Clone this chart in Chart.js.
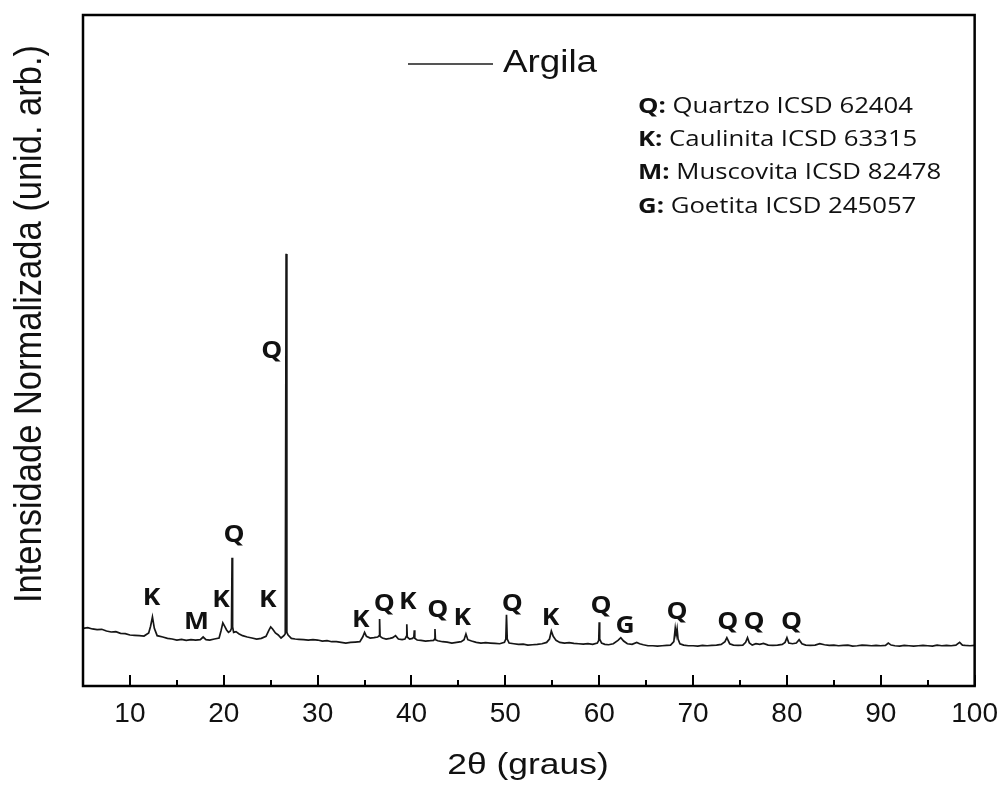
<!DOCTYPE html>
<html>
<head>
<meta charset="utf-8">
<script src="https://cdn.jsdelivr.net/npm/chart.js@4/dist/chart.umd.min.js"></script>
<style>
  html, body { margin: 0; padding: 0; background: #fff; }
  #wrap { width: 1001px; height: 785px; position: relative; }
</style>
</head>
<body>
<div id="wrap"><canvas id="c"></canvas></div>
<script>
// ---- data ----
const twoTheta = [
  5, 5.5, 6, 6.5, 7, 7.5, 8, 8.5, 9, 9.5,
  10, 10.5, 11, 11.5, 12, 12.2, 12.4, 12.6, 12.9, 13.5,
  14, 14.5, 15, 15.5, 16, 16.5, 17, 17.5, 17.8, 18.1,
  18.5, 19, 19.5, 19.7, 19.9, 20.1, 20.3, 20.5, 20.7, 20.82,
  20.88, 20.94, 21.05, 21.3, 21.6, 22, 22.5, 23, 23.5, 24,
  24.5, 24.8, 25.0, 25.2, 25.5, 25.8, 26.1, 26.4, 26.55, 26.64,
  26.72, 26.85, 27.2, 27.6, 28, 28.5, 29, 29.5, 30, 30.5,
  31, 31.5, 32, 32.5, 33, 33.5, 34, 34.5, 34.8, 35.0,
  35.2, 35.6, 36, 36.4, 36.55, 36.6, 36.65, 36.9, 37.3, 37.7,
  38.0, 38.3, 38.6, 39.0, 39.3, 39.45, 39.5, 39.55, 39.8, 40.1,
  40.25, 40.3, 40.35, 40.6, 41, 41.5, 42, 42.35, 42.45, 42.5,
  42.55, 42.8, 43.3, 43.8, 44.3, 44.8, 45.3, 45.6, 45.8, 46.0,
  46.4, 46.9, 47.4, 47.9, 48.4, 48.9, 49.4, 49.9, 50.05, 50.12,
  50.2, 50.4, 50.9, 51.4, 51.9, 52.4, 52.9, 53.4, 53.9, 54.4,
  54.7, 54.9, 55.1, 55.4, 55.8, 56.3, 56.8, 57.3, 57.8, 58.3,
  58.8, 59.3, 59.8, 59.95, 60.0, 60.05, 60.25, 60.6, 61.0, 61.5,
  62.0, 62.3, 62.6, 63.0, 63.5, 64.0, 64.3, 64.7, 65.2, 65.7,
  66.2, 66.7, 67.2, 67.6, 67.95, 68.1, 68.2, 68.3, 68.4, 68.6,
  69.0, 69.5, 70, 70.5, 71, 71.5, 72, 72.5, 73, 73.4,
  73.6, 73.9, 74.3, 74.8, 75.3, 75.6, 75.8, 76.0, 76.3, 76.7,
  77.1, 77.5, 78, 78.5, 79, 79.5, 79.8, 80.0, 80.2, 80.6,
  81.0, 81.3, 81.6, 82, 82.5, 83, 83.5, 84, 84.5, 85,
  85.5, 86, 86.5, 87, 87.5, 88, 88.5, 89, 89.5, 90,
  90.5, 90.8, 91.1, 91.5, 92, 92.5, 93, 93.5, 94, 94.5,
  95, 95.5, 96, 96.5, 97, 97.5, 98, 98.4, 98.7, 99,
  99.5, 100
];
const intensity = [
  8.6, 8.7, 8.5, 8.4, 8.45, 8.2, 8.05, 8.1, 7.85, 7.8,
  7.6, 7.55, 7.5, 7.45, 7.9, 8.9, 10.3, 8.6, 7.5, 7.3,
  7.1, 7.0, 6.85, 6.95, 6.8, 6.9, 6.85, 6.9, 7.3, 6.9,
  6.85, 7.0, 7.15, 8.2, 9.4, 8.9, 8.35, 8.0, 8.2, 8.6,
  19.1, 8.8, 8.0, 8.1, 7.8, 7.5, 7.3, 7.15, 7.0, 7.1,
  7.4, 8.3, 8.8, 8.5, 7.9, 7.6, 7.15, 7.5, 7.8, 64.4,
  8.0, 7.6, 7.1, 7.0, 6.95, 6.9, 6.85, 6.9, 6.85, 6.7,
  6.75, 6.6, 6.6, 6.5, 6.4, 6.5, 6.55, 6.6, 7.3, 8.0,
  7.4, 7.15, 7.2, 7.3, 7.5, 10.0, 7.4, 7.15, 7.0, 7.1,
  7.2, 7.5, 7.0, 6.9, 7.0, 7.4, 9.2, 7.3, 7.0, 7.1,
  7.3, 8.3, 7.1, 6.85, 6.8, 6.7, 6.75, 6.8, 7.0, 8.5,
  6.9, 6.75, 6.6, 6.55, 6.4, 6.5, 6.6, 6.9, 7.75, 6.9,
  6.7, 6.5, 6.4, 6.45, 6.4, 6.35, 6.3, 6.5, 7.0, 10.6,
  7.0, 6.4, 6.3, 6.2, 6.25, 6.1, 6.15, 6.2, 6.3, 6.5,
  7.0, 8.2, 7.4, 6.8, 6.5, 6.4, 6.45, 6.35, 6.3, 6.25,
  6.3, 6.2, 6.4, 6.8, 9.5, 7.0, 6.4, 6.2, 6.15, 6.3,
  6.8, 7.2, 6.7, 6.3, 6.2, 6.5, 6.3, 6.15, 6.0, 6.0,
  5.95, 6.0, 6.05, 6.1, 6.6, 8.6, 7.6, 8.5, 7.0, 6.3,
  6.1, 6.0, 6.0, 5.95, 6.05, 6.0, 6.05, 6.1, 6.2, 6.6,
  7.2, 6.3, 6.1, 6.05, 6.1, 6.5, 7.2, 6.4, 6.1, 6.3,
  6.2, 6.35, 6.1, 6.05, 6.1, 6.2, 6.5, 7.2, 6.4, 6.3,
  6.4, 6.9, 6.3, 6.1, 6.05, 6.1, 6.3, 6.15, 6.05, 6.1,
  6.0, 6.05, 6.1, 5.95, 6.0, 6.1, 6.05, 6.0, 6.05, 6.0,
  6.05, 6.4, 6.1, 6.0, 5.95, 6.05, 6.0, 5.95, 6.0, 6.05,
  6.0, 5.95, 6.1, 6.0, 6.05, 6.0, 6.1, 6.5, 6.1, 6.05,
  6.0, 6.05
];
const xTickLabels = [10, 20, 30, 40, 50, 60, 70, 80, 90, 100];
const xMinorTicks = [15, 25, 35, 45, 55, 65, 75, 85, 95];
const peakLabelText = ['K','M','K','Q','K','Q','K','Q','K','Q','K','Q','K','Q','G','Q','Q','Q','Q'];
const peakLabelX    = [12.3, 17.1, 19.7, 21.1, 24.7, 25.1, 34.6, 37.1, 39.6, 42.8, 45.4, 50.75, 54.8, 60.2, 62.75, 68.3, 73.7, 76.5, 80.5];
const peakLabelY    = [13.1, 9.5, 12.7, 22.4, 12.8, 49.9, 9.7, 12.2, 12.4, 11.2, 10.1, 12.2, 10.0, 11.8, 8.9, 11.0, 9.5, 9.5, 9.5];
const phaseKeys  = ['Q:', 'K:', 'M:', 'G:'];
const phaseNames = ['Quartzo ICSD 62404', 'Caulinita ICSD 63315', 'Muscovita ICSD 82478', 'Goetita ICSD 245057'];
const seriesName = 'Argila';
const xTitle = '2θ (graus)';
const yTitle = 'Intensidade Normalizada (unid. arb.)';

// ---- helpers ----
function stretchedText(ctx, text, x, y, font, sx, align, baseline) {
  ctx.save();
  ctx.font = font;
  ctx.textAlign = align;
  ctx.textBaseline = baseline;
  ctx.translate(x, y);
  ctx.scale(sx, 1);
  ctx.fillText(text, 0, 0);
  ctx.restore();
}

const overlay = {
  id: 'overlay',
  afterDatasetsDraw(chart) {
    const { ctx, chartArea: a, scales: { x, y } } = chart;
    ctx.save();
    // frame
    ctx.strokeStyle = '#000';
    ctx.lineWidth = 2.5;
    ctx.strokeRect(a.left, a.top, a.right - a.left, a.bottom - a.top);
    // inward ticks
    ctx.lineWidth = 2;
    ctx.beginPath();
    xTickLabels.forEach(v => {
      const px = Math.round(x.getPixelForValue(v));
      ctx.moveTo(px, a.bottom); ctx.lineTo(px, a.bottom - 11);
    });
    xMinorTicks.forEach(v => {
      const px = Math.round(x.getPixelForValue(v));
      ctx.moveTo(px, a.bottom); ctx.lineTo(px, a.bottom - 6);
    });
    ctx.stroke();

    ctx.fillStyle = '#111';
    // peak letters
    peakLabelText.forEach((t, i) => {
      stretchedText(ctx, t, x.getPixelForValue(peakLabelX[i]), y.getPixelForValue(peakLabelY[i]),
        'bold 23px "Open Sans"', 1.15, 'center', 'middle');
    });

    // legend (line + name)
    ctx.strokeStyle = '#555';
    ctx.lineWidth = 2;
    ctx.beginPath();
    ctx.moveTo(408, 64); ctx.lineTo(493, 64);
    ctx.stroke();
    stretchedText(ctx, seriesName, 503, 72, '32px "Liberation Sans"', 1.15, 'left', 'alphabetic');

    // phase box text
    const sx = 1.17;
    phaseKeys.forEach((k, i) => {
      const by = 113 + i * 33.2;
      ctx.font = 'bold 22px "Open Sans"';
      const w = ctx.measureText(k).width * sx;
      stretchedText(ctx, k, 638, by, 'bold 22px "Open Sans"', sx, 'left', 'alphabetic');
      stretchedText(ctx, ' ' + phaseNames[i], 638 + w, by, '22px "Open Sans"', sx, 'left', 'alphabetic');
    });

    // axis titles
    stretchedText(ctx, xTitle, 528, 766, '30px "Liberation Sans"', 1.18, 'center', 'middle');
    ctx.save();
    ctx.translate(30, 324);
    ctx.rotate(-Math.PI / 2);
    ctx.scale(1, 1.15);
    ctx.font = '34.5px "Liberation Sans"';
    ctx.textAlign = 'center';
    ctx.textBaseline = 'middle';
    ctx.fillText(yTitle, 0, 0);
    ctx.restore();

    ctx.restore();
  }
};

const points = twoTheta.map((v, i) => ({ x: v, y: intensity[i] }));

new Chart(document.getElementById('c'), {
  type: 'line',
  data: {
    datasets: [{
      label: seriesName,
      data: points,
      borderColor: '#161616',
      borderWidth: 1.7,
      pointRadius: 0,
      tension: 0,
      fill: false
    }]
  },
  options: {
    responsive: true,
    maintainAspectRatio: false,
    animation: false,
    layout: { padding: { left: 83, right: 24, top: 15, bottom: 0 } },
    plugins: { legend: { display: false }, tooltip: { enabled: false } },
    scales: {
      x: {
        type: 'linear',
        min: 5, max: 100,
        grid: { display: false },
        border: { display: false },
        afterBuildTicks: s => { s.ticks = xTickLabels.map(v => ({ value: v })); },
        afterFit: s => { s.height = 99; },
        ticks: {
          padding: 3,
          color: '#111',
          font: { family: '"Liberation Sans"', size: 28 },
          maxRotation: 0,
          autoSkip: false
        }
      },
      y: {
        min: 0, max: 100,
        grid: { display: false },
        border: { display: false },
        ticks: { display: false },
        afterFit: s => { s.width = 0; }
      }
    }
  },
  plugins: [overlay]
});
</script>
</body>
</html>
